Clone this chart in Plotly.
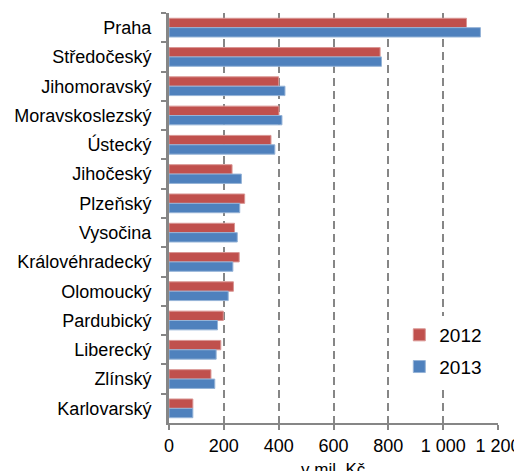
import plotly.graph_objects as go

regions = [
    "Praha", "Středočeský", "Jihomoravský", "Moravskoslezský", "Ústecký",
    "Jihočeský", "Plzeňský", "Vysočina", "Královéhradecký", "Olomoucký",
    "Pardubický", "Liberecký", "Zlínský", "Karlovarský",
]
values_2012 = [1085, 770, 400, 401, 372, 230, 276, 239, 256, 235, 198, 189, 153, 87]
values_2013 = [1136, 775, 423, 412, 386, 264, 258, 249, 233, 216, 177, 172, 167, 87]
x_ticks = [0, 200, 400, 600, 800, 1000, 1200]
x_tick_labels = ["0", "200", "400", "600", "800", "1 000", "1 200"]

RED = "#C0504D"
BLUE = "#4F81BD"
GREY = "#868686"

fig = go.Figure()
for name, vals, color, edge in [
    ("2012", values_2012, RED, "#D99593"),
    ("2013", values_2013, BLUE, "#95B3D7"),
]:
    fig.add_trace(
        go.Bar(
            y=regions,
            x=vals,
            name=name,
            orientation="h",
            legendgroup=name,
            marker={"color": color, "line": {"color": edge, "width": 1}},
        )
    )

fig.update_xaxes(
    range=[0, 1200],
    tickvals=x_ticks,
    ticktext=x_tick_labels,
    showgrid=True,
    gridcolor=GREY,
    gridwidth=2,
    griddash="8px,5px",
    showline=True,
    linecolor=GREY,
    linewidth=2,
    ticks="outside",
    ticklen=5,
    tickwidth=2,
    tickcolor=GREY,
    zeroline=False,
    automargin=False,
    tickfont={"size": 18},
)
fig.update_yaxes(
    autorange="reversed",
    showline=True,
    linecolor=GREY,
    linewidth=3,
    ticks="outside",
    tickson="boundaries",
    ticklen=5,
    tickwidth=2,
    tickcolor=GREY,
    ticklabelstandoff=11,
    showgrid=False,
    automargin=False,
    tickfont={"size": 18},
)
# axis title sits low, partly under the tick labels' line like the original
fig.add_annotation(
    text="v mil. Kč",
    xref="paper",
    yref="paper",
    x=0.5,
    y=-0.085,
    xanchor="center",
    yanchor="top",
    showarrow=False,
    font={"size": 17},
)
# the page body adds 8px of margin, so the figure is 8px smaller on each axis
fig.update_layout(
    width=514,
    height=463,
    barmode="group",
    bargap=0.36,
    bargroupgap=0,
    font={"family": "Liberation Sans, Arial, sans-serif", "color": "#000000"},
    plot_bgcolor="white",
    paper_bgcolor="white",
    showlegend=True,
    legend={
        "x": 0.70,
        "y": 0.261,
        "xanchor": "left",
        "yanchor": "top",
        "bgcolor": "white",
        "font": {"size": 19},
        "traceorder": "grouped",
        "tracegroupgap": 4,
        "itemwidth": 30,
    },
    margin={"l": 161, "r": 24, "t": 5, "b": 48},
)

fig.write_html("out.html")
